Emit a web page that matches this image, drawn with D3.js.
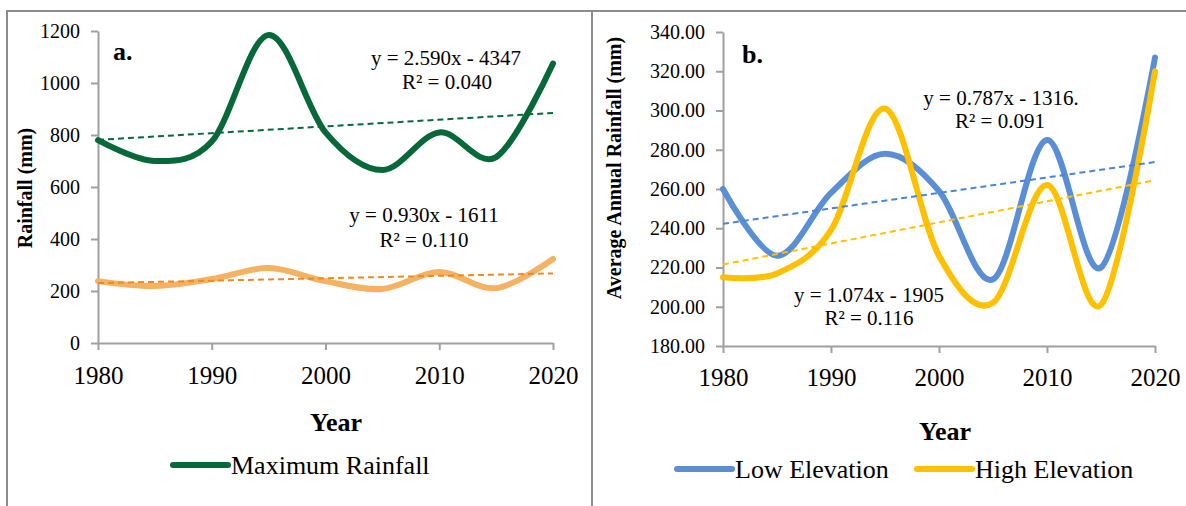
<!DOCTYPE html>
<html>
<head>
<meta charset="utf-8">
<script src="https://cdn.jsdelivr.net/npm/d3@7"></script>
<style>
  body { margin: 0; background: #fff; }
  text { font-family: "Liberation Serif", "Times New Roman", serif; fill: #000; }
</style>
</head>
<body>
<div id="chart"></div>
<script>
// data
const years = [1980, 1985, 1990, 1995, 2000, 2005, 2010, 2015, 2020];
const yearTicks = [1980, 1990, 2000, 2010, 2020];

// panel a
const maxRainfall = [780, 700, 775, 1185, 810, 665, 810, 715, 1075];
const otherRainfall = [238, 219, 246, 288, 238, 208, 273, 211, 323];
const ticksA = [0, 200, 400, 600, 800, 1000, 1200];
const trendMax = [2.590, -4347];
const trendOther = [0.930, -1611];

// panel b
const lowElevation = [260, 226, 258, 278, 259, 214, 285, 220, 327];
const highElevation = [215, 217, 239, 301, 226, 202, 262, 201, 320];
const ticksB = [180, 200, 220, 240, 260, 280, 300, 320, 340];
const trendLow = [0.787, -1316];
const trendHigh = [1.074, -1905];

const width = 1186, height = 506;

const svg = d3.select("#chart")
    .append("svg")
    .attr("width", width)
    .attr("height", height);

// frame
svg.append("path")
    .attr("d", "M7,506 V11 H1186 M592,11 V506")
    .attr("fill", "none")
    .attr("stroke", "#8c8c8c")
    .attr("stroke-width", 2);

const smooth = d3.curveCardinal.tension(0);

function axes(x, y, yTicks, yFmt, xPad) {
    const gx = svg.append("g")
        .attr("transform", `translate(0,${y.range()[0]})`)
        .call(d3.axisBottom(x).tickValues(yearTicks).tickFormat(d3.format("d"))
            .tickSize(7).tickSizeOuter(0).tickPadding(xPad));
    const gy = svg.append("g")
        .attr("transform", `translate(${x.range()[0]},0)`)
        .call(d3.axisLeft(y).tickValues(yTicks).tickFormat(yFmt)
            .tickSize(7).tickSizeOuter(0).tickPadding(11));
    [gx, gy].forEach(g => {
        g.selectAll("path, line").attr("stroke", "#a0a0a0").attr("stroke-width", 2);
        g.selectAll("text").style("font-family", "Liberation Serif").attr("fill", "#000");
    });
    gx.selectAll("text").style("font-size", "25px");
    gy.selectAll("text").style("font-size", "20px");
}

function series(x, y, values, color) {
    svg.append("path")
        .datum(values)
        .attr("fill", "none")
        .attr("stroke", color)
        .attr("stroke-width", 6)
        .attr("stroke-linecap", "round")
        .attr("d", d3.line().x((d, i) => x(years[i])).y(d => y(d)).curve(smooth));
}

function trend(x, y, coef, color) {
    const f = yr => coef[0] * yr + coef[1];
    const x0 = years[0], x1 = years[years.length - 1];
    svg.append("line")
        .attr("x1", x(x0)).attr("y1", y(f(x0)))
        .attr("x2", x(x1)).attr("y2", y(f(x1)))
        .attr("stroke", color)
        .attr("stroke-width", 2)
        .attr("stroke-dasharray", "6,4");
}

function label(txt, px, py, size, bold, anchor) {
    svg.append("text")
        .attr("x", px).attr("y", py)
        .attr("text-anchor", anchor || "middle")
        .style("font-size", size + "px")
        .style("font-weight", bold ? "bold" : "normal")
        .text(txt);
}

function legendItem(px, py, color, txt) {
    svg.append("line")
        .attr("x1", px).attr("x2", px + 55)
        .attr("y1", py).attr("y2", py)
        .attr("stroke", color).attr("stroke-width", 6)
        .attr("stroke-linecap", "round");
    label(txt, px + 58, py + 9, 26, false, "start");
}

// ---- panel a ----
const xA = d3.scaleLinear().domain([1980, 2020]).range([98, 553]);
const yA = d3.scaleLinear().domain([0, 1200]).range([343, 31]);

axes(xA, yA, ticksA, d3.format("d"), 16);
series(xA, yA, otherRainfall, "#f5b263");
series(xA, yA, maxRainfall, "#07693a");
trend(xA, yA, trendMax, "#07693a");
trend(xA, yA, trendOther, "#f08a1c");

label("a.", 113, 60, 26, true, "start");
label("y = 2.590x - 4347", 446, 65, 21);
label("R² = 0.040", 447, 89, 21);
label("y = 0.930x - 1611", 424, 222, 21);
label("R² = 0.110", 424, 247, 21);
label("Year", 336, 431, 26, true);

svg.append("text")
    .attr("transform", "translate(32,188) rotate(-90)")
    .attr("text-anchor", "middle")
    .style("font-size", "20px")
    .style("font-weight", "bold")
    .text("Rainfall (mm)");

legendItem(173, 465, "#07693a", "Maximum Rainfall");

// ---- panel b ----
const xB = d3.scaleLinear().domain([1980, 2020]).range([723, 1155]);
const yB = d3.scaleLinear().domain([180, 340]).range([346, 32]);

axes(xB, yB, ticksB, d3.format(".2f"), 15);
series(xB, yB, lowElevation, "#5a8fd6");
series(xB, yB, highElevation, "#ffc000");
trend(xB, yB, trendLow, "#4a86d8");
trend(xB, yB, trendHigh, "#ffc000");

label("b.", 742, 63, 26, true, "start");
label("y = 0.787x - 1316.", 1001, 105, 21);
label("R² = 0.091", 1000, 128, 21);
label("y = 1.074x - 1905", 869, 302, 21);
label("R² = 0.116", 869, 325, 21);
label("Year", 945, 440, 26, true);

svg.append("text")
    .attr("transform", "translate(621,168) rotate(-90)")
    .attr("text-anchor", "middle")
    .style("font-size", "20px")
    .style("font-weight", "bold")
    .text("Average Annual Rainfall (mm)");

legendItem(677, 469, "#5a8fd6", "Low Elevation");
legendItem(917, 469, "#ffc000", "High Elevation");
</script>
</body>
</html>
